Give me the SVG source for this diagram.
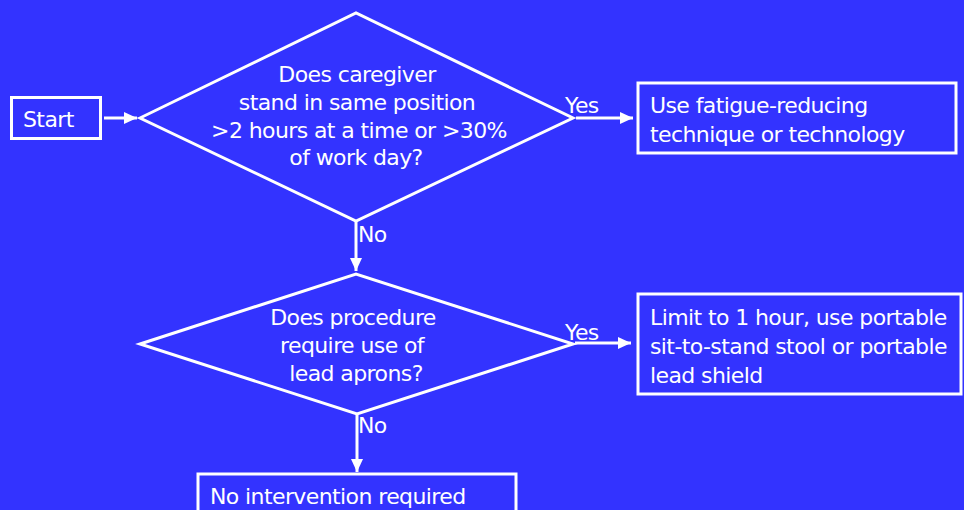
<svg xmlns="http://www.w3.org/2000/svg" width="964" height="510" viewBox="0 0 964 510">
  <defs>
    <marker id="arrow" viewBox="0 0 13 12" refX="13" refY="6" markerWidth="13" markerHeight="12" markerUnits="userSpaceOnUse" orient="auto">
      <path d="M0,0 L13,6 L0,12 Z" fill="#ffffff"/>
    </marker>
    <style>
      .shape { fill: none; stroke: #ffffff; stroke-width: 3; }
      .edge { fill: none; stroke: #ffffff; stroke-width: 3; marker-end: url(#arrow); }
      text { font-family: "DejaVu Sans", Verdana, sans-serif; font-size: 22px; letter-spacing: -0.6px; fill: #ffffff; }
      .mid { text-anchor: middle; }
    </style>
  </defs>

  <rect x="0" y="0" width="964" height="510" fill="#3333ff"/>

  <!-- connectors -->
  <g id="connectors">
    <line class="edge" x1="104" y1="118" x2="137" y2="118"/>
    <line class="edge" x1="576" y1="118" x2="633" y2="118"/>
    <line class="edge" x1="356" y1="221" x2="356" y2="271"/>
    <line class="edge" x1="575" y1="343" x2="631" y2="343"/>
    <line class="edge" x1="357" y1="414" x2="357" y2="472"/>
    <text x="565" y="113">Yes</text>
    <text x="358" y="242">No</text>
    <text x="565" y="340">Yes</text>
    <text x="358" y="433">No</text>
  </g>

  <!-- start -->
  <g id="start">
    <rect class="shape" x="11.5" y="97.5" width="89" height="41"/>
    <text x="23" y="127">Start</text>
  </g>

  <!-- first decision -->
  <g id="decision-standing">
    <polygon class="shape" points="140,118 356,13 573,118 356,221"/>
    <text class="mid" x="357" y="82">Does caregiver</text>
    <text class="mid" x="357" y="110">stand in same position</text>
    <text class="mid" x="359" y="138">&gt;2 hours at a time or &gt;30%</text>
    <text class="mid" x="356" y="165">of work day?</text>
  </g>

  <!-- fatigue-reducing action -->
  <g id="action-fatigue">
    <rect class="shape" x="638" y="83" width="318" height="70"/>
    <text x="650" y="113">Use fatigue-reducing</text>
    <text x="650" y="142">technique or technology</text>
  </g>

  <!-- second decision -->
  <g id="decision-aprons">
    <polygon class="shape" points="140,344 356,274 573,344 357,414"/>
    <text class="mid" x="353" y="325">Does procedure</text>
    <text class="mid" x="352" y="353">require use of</text>
    <text class="mid" x="356" y="381">lead aprons?</text>
  </g>

  <!-- limit action -->
  <g id="action-limit">
    <rect class="shape" x="638" y="294" width="323" height="100"/>
    <text x="650" y="325">Limit to 1 hour, use portable</text>
    <text x="650" y="354">sit-to-stand stool or portable</text>
    <text x="650" y="383">lead shield</text>
  </g>

  <!-- no intervention -->
  <g id="action-none">
    <rect class="shape" x="198" y="474" width="318" height="50"/>
    <text x="210" y="504">No intervention required</text>
  </g>
</svg>
